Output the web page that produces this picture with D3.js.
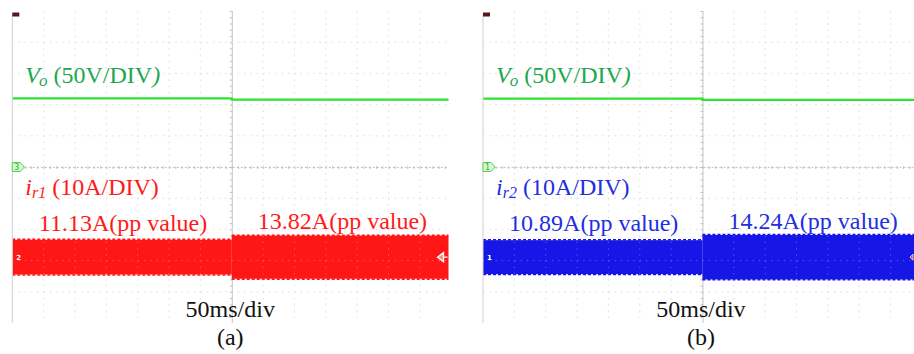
<!DOCTYPE html>
<html>
<head>
<meta charset="utf-8">
<script src="https://cdn.jsdelivr.net/npm/d3@7"></script>
<style>
  body { margin: 0; background: #fff; }
  svg { display: block; }
</style>
</head>
<body>
<svg id="chart" width="914" height="354"></svg>
<script>
// ---- data -------------------------------------------------------------
const panelTags   = ["(a)", "(b)"];
const currentSubs = ["r1", "r2"];
const channelIds  = ["2", "1"];
const voltScale   = "50V/DIV";
const ampScale    = "10A/DIV";
const timeBase    = "50ms/div";
// output voltage before / after the load step (V)
const voBefore = [110.0, 109.6];
const voAfter  = [108.0, 107.5];
// resonant current peak-to-peak before / after the step (A)
const ppBefore = [11.13, 10.89];
const ppAfter  = [13.82, 14.24];
// time window (ms), step at t = 0
const tStart = -350, tStep = 0, tEnd = 350;

// ---- layout / style ---------------------------------------------------
const W = 914, H = 354;
const divX = 31.35, divY = 31.2;
const panelLeft = [12.3, 483];
const panelClipRight = [448.5, 914];
const gridTop = 11, centerY = 167;
const voltsPerDiv = 50, ampsPerDiv = 10;
const ampOffsetDiv = -2.89;            // current channel ground marker, in divisions
const currentColor = ["#ff1717", "#1616e6"];
const currentText  = ["#ff1a1a", "#1f2fe0"];
const voColor = "#2fe22f", voText = "#1ea84e";
const gridColor = "#c4c4c4";
const serif = "'Liberation Serif','Times New Roman',serif";

const svg = d3.select("#chart");
const defs = svg.append("defs");

panelTags.forEach((tag, p) => {
  const left = panelLeft[p];
  const right = left + 14 * divX;
  const bottom = gridTop + 10 * divY;

  const x = d3.scaleLinear().domain([tStart, tEnd]).range([left, right]);
  const yV = d3.scaleLinear()
    .domain([-5 * voltsPerDiv, 5 * voltsPerDiv])
    .range([bottom, gridTop]);
  const ampCenter = -ampOffsetDiv * ampsPerDiv;
  const yI = d3.scaleLinear()
    .domain([ampCenter - 5 * ampsPerDiv, ampCenter + 5 * ampsPerDiv])
    .range([bottom, gridTop]);

  defs.append("clipPath").attr("id", "clip" + p)
    .append("rect")
    .attr("x", left).attr("y", gridTop)
    .attr("width", panelClipRight[p] - left).attr("height", bottom - gridTop);

  const g = svg.append("g");
  const plot = g.append("g").attr("clip-path", `url(#clip${p})`);

  // graticule
  const grid = plot.append("g");
  const minor = divX / 5;
  const vCols = d3.range(1, 14).filter(i => i !== 7);
  const hRows = d3.range(1, 10).filter(j => j !== 5);
  const drawDots = (sel, stroke) => {
    vCols.forEach(i => {
      sel.append("line")
        .attr("x1", left + i * divX).attr("x2", left + i * divX)
        .attr("y1", gridTop).attr("y2", bottom)
        .attr("stroke", stroke).attr("stroke-width", 1)
        .attr("stroke-dasharray", `1.2,${(divY / 5 - 1.2).toFixed(2)}`);
    });
    hRows.forEach(j => {
      sel.append("line")
        .attr("x1", left).attr("x2", right)
        .attr("y1", gridTop + j * divY).attr("y2", gridTop + j * divY)
        .attr("stroke", stroke).attr("stroke-width", 1)
        .attr("stroke-dasharray", `1.2,${(minor - 1.2).toFixed(2)}`);
    });
  };
  drawDots(grid.append("g").attr("opacity", 0.8), gridColor);
  // centre axes with minor ticks
  const hAxis = d3.axisBottom(x)
    .tickValues(d3.range(tStart, tEnd + 1, 10))
    .tickSize(2).tickSizeOuter(0).tickFormat("");
  const hA = grid.append("g").attr("transform", `translate(0,${centerY})`).call(hAxis);
  hA.selectAll(".tick line").attr("stroke", gridColor).attr("transform", "translate(0,-1)").attr("y2", 3);
  hA.select(".domain").attr("stroke", gridColor).attr("stroke-dasharray", "2,2");
  const vAxis = d3.axisLeft(yV)
    .tickValues(d3.range(-250, 251, 10))
    .tickSize(2).tickSizeOuter(0).tickFormat("");
  const vA = grid.append("g").attr("transform", `translate(${x(0)},0)`).call(vAxis);
  vA.selectAll(".tick line").attr("stroke", gridColor).attr("transform", "translate(1,0)").attr("x2", -3);
  vA.select(".domain").attr("stroke", gridColor);

  // current envelope (dense switching ripple shows as a filled band)
  const segs = [
    { t0: tStart, t1: tStep, pp: ppBefore[p] },
    { t0: tStep,  t1: tEnd,  pp: ppAfter[p] }
  ];
  plot.selectAll("rect.band").data(segs).join("rect")
    .attr("class", "band")
    .attr("x", d => x(d.t0))
    .attr("width", d => x(d.t1) - x(d.t0))
    .attr("y", d => yI(d.pp / 2))
    .attr("height", d => yI(-d.pp / 2) - yI(d.pp / 2))
    .attr("fill", currentColor[p]);
  // ragged ripple edges
  segs.forEach(d => {
    [d.pp / 2, -d.pp / 2].forEach((v, k) => {
      const yy = yI(v) + (k ? 0.4 : -0.4);
      plot.append("line")
        .attr("x1", x(d.t0)).attr("x2", x(d.t1))
        .attr("y1", yy).attr("y2", yy)
        .attr("stroke", currentColor[p]).attr("stroke-width", 1.6)
        .attr("stroke-dasharray", "3,2");
    });
  });

  // output voltage trace
  const vPts = [[tStart, voBefore[p]], [tStep, voAfter[p]], [tEnd, voAfter[p]]];
  plot.append("path")
    .datum(vPts)
    .attr("d", d3.line().x(d => x(d[0])).y(d => yV(d[1])).curve(d3.curveStepAfter))
    .attr("fill", "none")
    .attr("stroke", voColor)
    .attr("stroke-width", 2.2);

  // graticule dots showing faintly through the traces
  drawDots(plot.append("g").attr("opacity", 0.3), "#ffffff");

  // left frame edge
  g.append("line")
    .attr("x1", left).attr("x2", left)
    .attr("y1", gridTop + 4).attr("y2", bottom)
    .attr("stroke", "#d0d0d0").attr("stroke-width", 1);

  // trigger position marker (top-left)
  g.append("path")
    .attr("d", `M${left},${gridTop + 1.5}h7v4h-7z`)
    .attr("fill", "#5a1616");

  // voltage channel ground marker
  const mY = yV(0);
  g.append("path")
    .attr("d", `M${left},${mY - 4.5}h8l4,4.5l-4,4.5h-8z`)
    .attr("fill", "#d9f7d4").attr("stroke", "#4fd24f").attr("stroke-width", 1);
  g.append("text")
    .attr("x", left + 4.5).attr("y", mY + 3.3)
    .attr("text-anchor", "middle")
    .attr("font-family", "'DejaVu Sans',sans-serif").attr("font-size", 8)
    .attr("fill", "#2fb52f").text(p === 0 ? "3" : "1");

  // current channel ground marker
  const iY = yI(0);
  g.append("text")
    .attr("x", left + 4).attr("y", iY + 2.5)
    .attr("font-family", "'DejaVu Sans',sans-serif").attr("font-size", 7)
    .attr("font-weight", "bold")
    .attr("fill", "#fff").text(channelIds[p]);

  // trigger level marker (right)
  if (p === 0) {
    const tx = panelClipRight[p] - 3;
    g.append("path")
      .attr("d", `M${tx - 8},${iY}l6,-4.5v9z M${tx - 2},${iY}h4`)
      .attr("fill", "#ff8a8a").attr("stroke", "#fff").attr("stroke-width", 1.3);
  } else {
    g.append("path")
      .attr("d", `M${W - 1},${iY - 3}l-3,3l3,3z`)
      .attr("fill", "#ff3030").attr("stroke", "#fff").attr("stroke-width", 0.8);
  }

  // channel labels
  const vo = g.append("text")
    .attr("x", left + 13).attr("y", 83)
    .attr("font-family", serif).attr("font-size", 24)
    .attr("fill", voText);
  vo.append("tspan").attr("font-style", "italic").text("V");
  vo.append("tspan").attr("font-style", "italic").attr("font-size", 17)
    .attr("dy", 3).attr("dx", -1).text("o");
  vo.append("tspan").attr("dy", -3).text(` (${voltScale}`);
  vo.append("tspan").attr("font-style", "italic").text(")");

  const ir = g.append("text")
    .attr("x", left + 13).attr("y", 195)
    .attr("font-family", serif).attr("font-size", 24)
    .attr("fill", currentText[p]);
  ir.append("tspan").attr("font-style", "italic").text("i");
  ir.append("tspan").attr("font-style", "italic").attr("font-size", 16)
    .attr("dy", 3).text(currentSubs[p]);
  ir.append("tspan").attr("dy", -3).text(` (${ampScale})`);

  // peak-to-peak annotations
  const ppLabels = [
    { t: (tStart + tStep) / 2, v: ppBefore[p], y: 231 },
    { t: (tStep + tEnd) / 2,   v: ppAfter[p],  y: 228.5 }
  ];
  g.selectAll("text.pp").data(ppLabels).join("text")
    .attr("class", "pp")
    .attr("x", d => x(d.t) + 1)
    .attr("y", d => d.y)
    .attr("text-anchor", "middle")
    .attr("font-family", serif).attr("font-size", 24)
    .attr("fill", currentText[p])
    .text(d => `${d.v.toFixed(2)}A(pp value)`);

  // time base and panel tag
  g.append("text")
    .attr("x", x(0) - 1.5).attr("y", 317)
    .attr("text-anchor", "middle")
    .attr("font-family", serif).attr("font-size", 24)
    .attr("fill", "#111").text(timeBase);
  g.append("text")
    .attr("x", x(0) - 1.5).attr("y", 345)
    .attr("text-anchor", "middle")
    .attr("font-family", serif).attr("font-size", 24)
    .attr("fill", "#111").text(tag);
});
</script>
</body>
</html>
